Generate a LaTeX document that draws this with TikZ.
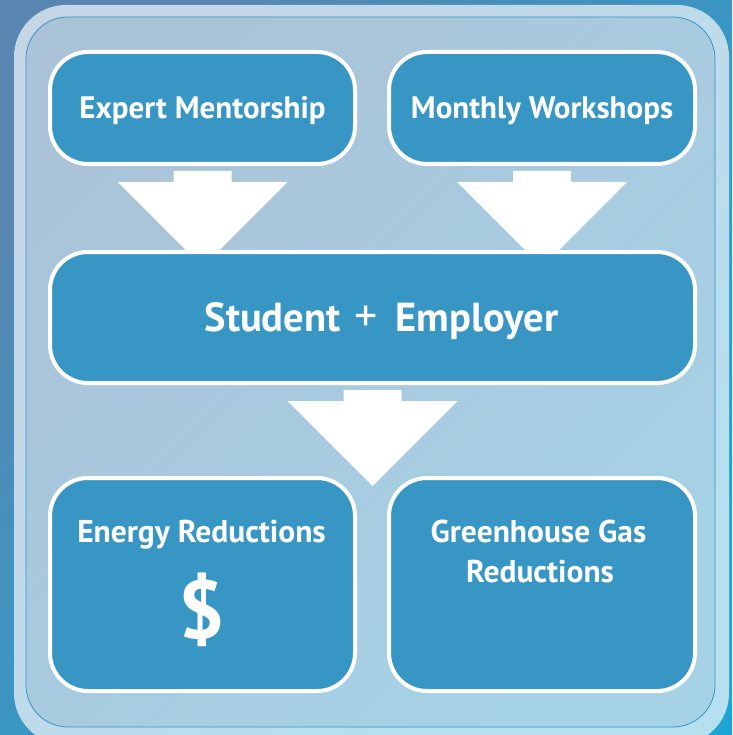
\documentclass[tikz,border=0pt]{standalone}
\usepackage{fontspec}
\setmainfont{PT Sans}
\usetikzlibrary{calc}
\definecolor{bgdark}{RGB}{88,134,176}
\definecolor{bglight}{RGB}{30,165,212}
\definecolor{framelight}{RGB}{196,214,229}
\definecolor{framecyan}{RGB}{182,224,240}
\definecolor{panelA}{RGB}{170,195,216}
\definecolor{panelB}{RGB}{166,210,230}
\definecolor{panelline}{RGB}{52,150,200}
\definecolor{boxblue}{RGB}{56,150,197}
\tikzstyle{flowbox}=[
    draw=white, line width=4pt,
    fill=boxblue,
    rounded corners=38pt,
    text=white,
    font=\bfseries\fontsize{31}{36}\selectfont,
    text height=22pt, text depth=0pt,
    inner sep=0pt,
]
\tikzstyle{boxtext}=[
    text=white, anchor=base, inner sep=0pt,
    font=\bfseries\fontsize{31.5}{36}\selectfont,
]
\newcommand{\blockarrow}[1]{%
    \fill[white] ($(#1.south)+(-29,5)$) -- ($(#1.south)+(29,5)$)
        -- ($(#1.south)+(29,16)$) -- ($(#1.south)+(85,16)$)
        -- ($(#1.south)+(0,101)$) -- ($(#1.south)+(-85,16)$)
        -- ($(#1.south)+(-29,16)$) -- cycle;}

\begin{document}
\begin{tikzpicture}[x=1pt, y=-1pt]
    \useasboundingbox (0,0) rectangle (732,735);
    \shade[top color=bgdark, bottom color=bglight, shading angle=45] (0,0) rectangle (732,735);
    \shade[top color=framelight, bottom color=framecyan, shading angle=45, rounded corners=52pt] (14,5) rectangle (729,745);
    \shade[top color=panelA, bottom color=panelB, shading angle=45, rounded corners=42pt] (26,17) rectangle (715,727);
    \draw[panelline, line width=0.8pt, rounded corners=42pt] (26,17) rectangle (715,727);

    \node[flowbox, minimum width=305pt, minimum height=112pt] (mentor) at (202.5,108) {Expert Mentorship};
    \node[flowbox, minimum width=306pt, minimum height=112pt] (workshop) at (542,108) {Monthly Workshops};
    \blockarrow{mentor}
    \blockarrow{workshop}
    \node[flowbox, minimum width=645pt, minimum height=131pt, text height=28pt,
        font=\bfseries\fontsize{40.5}{44}\selectfont] (team) at (372.5,317.5)
        {\hspace{18pt}Student\hspace{14pt}{\mdseries\fontsize{46}{46}\selectfont+}\hspace{18pt}Employer};
    \blockarrow{team}

    \node[flowbox, minimum width=305pt, minimum height=213pt] (energy) at (202.5,584.5) {};
    \node[flowbox, minimum width=306pt, minimum height=213pt] (ghg) at (542,584.5) {};
    \node[boxtext] (energytext) at (201.5,542) {Energy Reductions};
    \node[boxtext, font=\bfseries\fontsize{82}{82}\selectfont] (dollar) at (202,638) {\$};
    \node[boxtext] (ghgtext) at (538.5,542) {Greenhouse Gas};
    \node[boxtext] (ghgtext2) at (540,582) {Reductions};
\end{tikzpicture}
\end{document}
